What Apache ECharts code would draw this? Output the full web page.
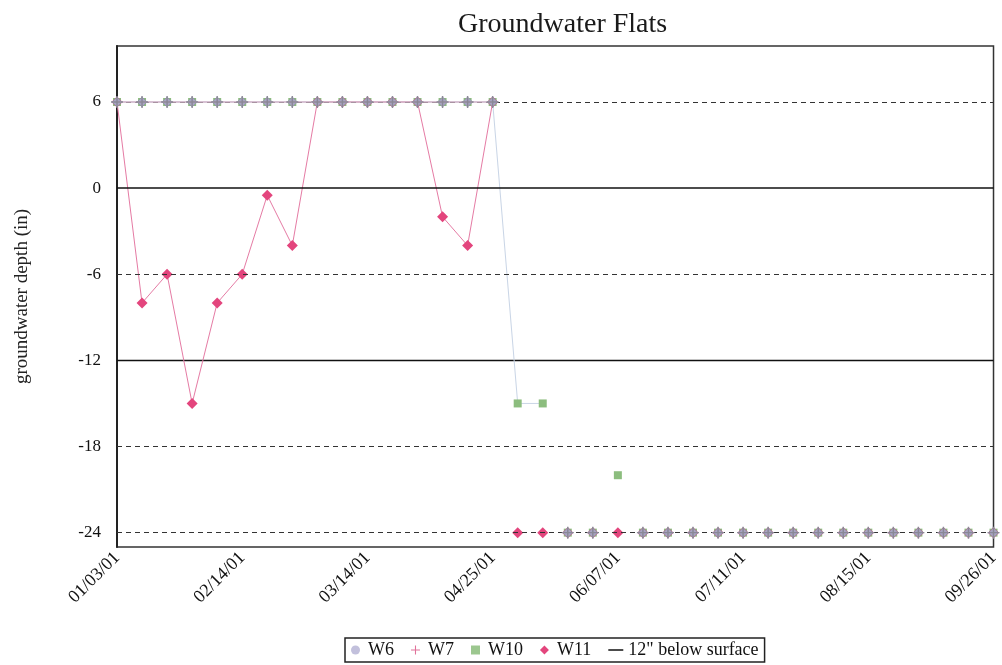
<!DOCTYPE html>
<html>
<head>
<meta charset="utf-8">
<script src="https://cdn.jsdelivr.net/npm/echarts@6/dist/echarts.min.js"></script>
<style>
  html, body { margin: 0; padding: 0; background: #fff; }
  #chart { width: 1002px; height: 665px; }
</style>
</head>
<body>
<div id="chart"></div>
<script>
// Sampling dates (every 5th one is labelled on the axis)
const sampleDates = [
  '01/03/01', '01/10/01', '01/17/01', '01/24/01', '02/07/01',
  '02/14/01', '02/21/01', '02/26/01', '03/01/01', '03/07/01',
  '03/14/01', '03/21/01', '03/28/01', '04/04/01', '04/18/01',
  '04/25/01', '05/02/01', '05/09/01', '05/17/01', '05/30/01',
  '06/07/01', '06/13/01', '06/20/01', '06/27/01', '07/03/01',
  '07/11/01', '07/18/01', '07/25/01', '08/01/01', '08/08/01',
  '08/15/01', '08/22/01', '08/29/01', '09/05/01', '09/12/01',
  '09/26/01'
];

// Groundwater depth (in); 6 = standing water, -24 = well dry (bottom of well)
const w6 = [
  6, 6, 6, 6, 6, 6, 6, 6, 6, 6, 6, 6, 6, 6, 6, 6,
  null, null, -24, -24, null,
  -24, -24, -24, -24, -24, -24, -24, -24, -24, -24, -24, -24, -24, -24, -24
];
const w7 = [
  6, 6, 6, 6, 6, 6, 6, 6, 6, 6, 6, 6, 6, 6, 6, 6,
  null, null, -24, -24, null,
  -24, -24, -24, -24, -24, -24, -24, -24, -24, -24, -24, -24, -24, -24, -24
];
const w10 = [
  6, 6, 6, 6, 6, 6, 6, 6, 6, 6, 6, 6, 6, 6, 6, 6,
  -15, -15, -24, -24, -20,
  -24, -24, -24, -24, -24, -24, -24, -24, -24, -24, -24, -24, -24, -24, -24
];
const w11 = [
  6, -8, -6, -15, -8, -6, -0.5, -4, 6, 6, 6, 6, 6, -2, -4, 6,
  -24, -24, -24, -24, -24,
  -24, -24, -24, -24, -24, -24, -24, -24, -24, -24, -24, -24, -24, -24, -24
];

const yTicks = [6, 0, -6, -12, -18, -24];
const dashedGrid = [6, -6, -18, -24];
const solidGrid = [0];
const referenceDepth = -12;   // 12" below surface
const WELL_BOTTOM = -24;

const SERIF = "'Liberation Serif', 'DejaVu Serif', serif";
const PLUS = 'path://M4.4,0H5.6V4.4H10V5.6H5.6V10H4.4V5.6H0V4.4H4.4Z';
const DIAMOND = 'path://M5,0L10,5L5,10L0,5Z';

// Readings at the well bottom are plotted as markers only (no connecting line)
function wellSeries(name, values, marker, line) {
  const wet = values.map(v => (v === WELL_BOTTOM ? null : v));
  const dry = values.map(v => (v === WELL_BOTTOM ? v : null));
  return [
    {
      name, type: 'line', data: wet, connectNulls: false,
      showAllSymbol: true, symbol: marker.symbol, symbolSize: marker.size,
      itemStyle: marker.itemStyle,
      lineStyle: { color: line.color, width: line.width },
      emphasis: { disabled: true }, z: marker.z
    },
    {
      name, type: 'line', data: dry, connectNulls: false,
      showAllSymbol: true, symbol: marker.symbol, symbolSize: marker.size,
      itemStyle: marker.itemStyle,
      lineStyle: { width: 0, opacity: 0 },
      emphasis: { disabled: true }, z: marker.z
    }
  ];
}

const chart = echarts.init(document.getElementById('chart'));

const series = [].concat(
  wellSeries('W10', w10,
    { symbol: 'rect', size: 8, itemStyle: { color: '#8cbd7e' }, z: 3 },
    { color: '#c9d5e6', width: 1 }),
  wellSeries('W11', w11,
    { symbol: 'diamond', size: 11, itemStyle: { color: '#e3457d' }, z: 4 },
    { color: '#e57ba4', width: 1 }),
  wellSeries('W6', w6,
    { symbol: 'diamond', size: 10, itemStyle: { color: '#a7a5c3', borderColor: '#8b899f', borderWidth: 0.6 }, z: 5 },
    { color: '#cfcde2', width: 1 }),
  wellSeries('W7', w7,
    { symbol: PLUS, size: 12, itemStyle: { color: '#8a8896' }, z: 6 },
    { color: '#d6a9bd', width: 1 }),
  [{
    name: '12" below surface', type: 'line',
    data: sampleDates.map(() => referenceDepth),
    symbol: 'none', lineStyle: { color: '#111', width: 1.5 },
    emphasis: { disabled: true }, z: 2,
    markLine: {
      silent: true, symbol: ['none', 'none'],
      label: { show: false },
      data: dashedGrid.map(v => ({ yAxis: v, lineStyle: { type: [5, 4], color: '#333', width: 1.2 } }))
        .concat(solidGrid.map(v => ({ yAxis: v, lineStyle: { type: 'solid', color: '#111', width: 1.5 } })))
    }
  }]
);

chart.setOption({
  animation: false,
  backgroundColor: '#fff',
  title: {
    text: 'Groundwater Flats',
    left: 453, top: 6,
    textStyle: { fontFamily: SERIF, fontSize: 28, fontWeight: 'normal', color: '#1a1a1a' }
  },
  legend: {
    left: 345, top: 638,
    padding: [3, 6, 3, 6],
    borderColor: '#222', borderWidth: 1.5,
    itemGap: 17, itemWidth: 15, itemHeight: 9,
    textStyle: { fontFamily: SERIF, fontSize: 18, color: '#111' },
    data: [
      { name: 'W6', icon: 'circle', itemStyle: { color: '#c2c0dc', borderWidth: 0 } },
      { name: 'W7', icon: PLUS, itemStyle: { color: '#e0729a', borderWidth: 0 } },
      { name: 'W10', icon: 'path://M0,0H7V7H0Z', itemStyle: { color: '#9cc78f', borderWidth: 0 } },
      { name: 'W11', icon: DIAMOND, itemStyle: { color: '#e3457d', borderWidth: 0 } },
      { name: '12" below surface', icon: 'path://M0,0H14V1.4H0Z', itemStyle: { color: '#111', borderWidth: 0 } }
    ]
  },
  grid: {
    left: 117, right: 6, top: 46, bottom: 118,
    show: true, borderColor: '#333', borderWidth: 1.5
  },
  xAxis: {
    type: 'category',
    data: sampleDates,
    boundaryGap: false,
    axisLine: { show: false },
    axisTick: { show: false },
    axisLabel: {
      interval: 4, rotate: 45, margin: 8,
      fontFamily: SERIF, fontSize: 18, color: '#111'
    }
  },
  yAxis: {
    type: 'value',
    min: -25, max: 9.9,
    name: 'groundwater depth (in)',
    nameLocation: 'middle', nameRotate: 90, nameGap: 85,
    nameTextStyle: { fontFamily: SERIF, fontSize: 19, color: '#222' },
    axisLine: { show: true, lineStyle: { color: '#222', width: 2 } },
    axisTick: { show: false, customValues: yTicks },
    splitLine: { show: false },
    axisLabel: {
      customValues: yTicks, margin: 16,
      fontFamily: SERIF, fontSize: 17, color: '#111'
    }
  },
  series
});
</script>
</body>
</html>
